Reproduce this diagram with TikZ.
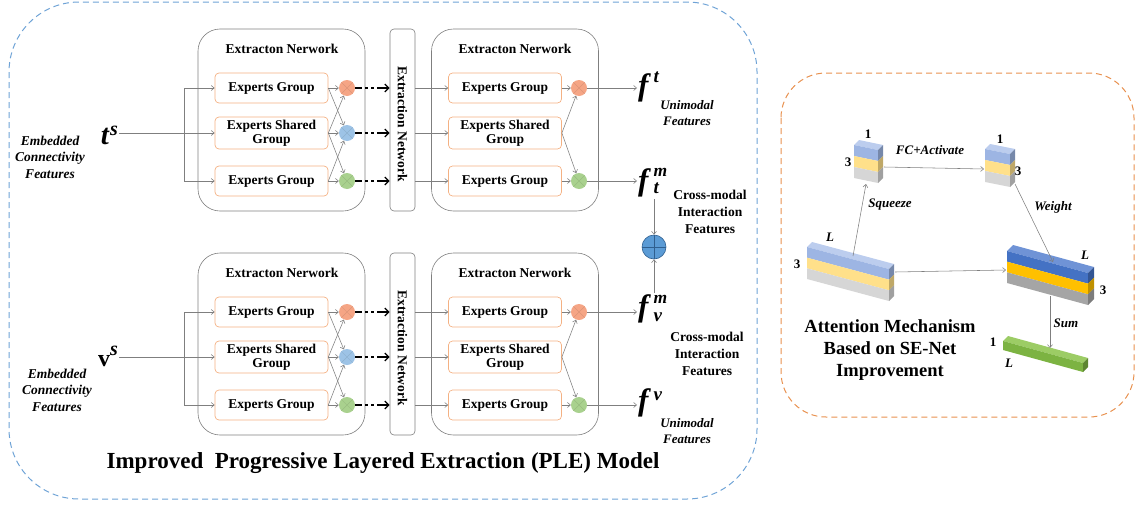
\documentclass[tikz,border=0pt]{standalone}
\usepackage{fontspec}
\setmainfont{Liberation Serif}
\usetikzlibrary{arrows.meta,calc}
\definecolor{lineg}{HTML}{7F7F7F}
\definecolor{boxo}{HTML}{F4B183}
\definecolor{gorange}{HTML}{F5A585}
\definecolor{gblue}{HTML}{9DC3E6}
\definecolor{ggreen}{HTML}{A9D18E}
\definecolor{plusblue}{HTML}{5B9BD5}
\definecolor{plusdark}{HTML}{2F5F8F}
\definecolor{outblue}{HTML}{6FA3D6}
\definecolor{outorange}{HTML}{E8914F}
% light slab colours
\definecolor{lba}{HTML}{9DB5E3}
\definecolor{lbb}{HTML}{FFE08A}
\definecolor{lbc}{HTML}{D6D6D6}
\definecolor{lbtop}{HTML}{BCCDEE}
% dark slab colours
\definecolor{dba}{HTML}{4472C4}
\definecolor{dbb}{HTML}{FFC000}
\definecolor{dbc}{HTML}{A5A5A5}
\definecolor{dbtop}{HTML}{6F93D6}
\definecolor{gra}{HTML}{7CB342}
\definecolor{grtop}{HTML}{9CCC65}
\newcommand\slab[7]{% x y w s h d prefix
  \pgfmathsetmacro\hh{#5/3}
  \fill[#7top] (#1,#2) -- ++(#6,-#6) -- ++(#3,#4) -- ++(-#6,#6) -- cycle;
  \foreach \ii/\cc in {0/a,1/b,2/c}{
    \fill[#7\cc] (#1,#2+\ii*\hh) -- ++(#3,#4) -- ++(0,\hh) -- ++(-#3,-#4) -- cycle;
    \fill[#7\cc!75!black] (#1+#3,#2+#4+\ii*\hh) -- ++(#6,-#6) -- ++(0,\hh) -- ++(-#6,#6) -- cycle;
  }
}
\newcommand\scr[3]{\raisebox{#1}[0pt][0pt]{\fontsize{#2}{#2}\selectfont #3}}
\begin{document}
\begin{tikzpicture}[x=1pt,y=-1pt,
  every node/.style={font=\bfseries\fontsize{13.5}{14.5}\selectfont, inner sep=1pt},
  net/.style={draw=lineg, line width=0.6pt, rounded corners=22pt, minimum width=167pt, minimum height=182pt},
  expbox/.style={draw=boxo, line width=0.7pt, rounded corners=4pt, minimum width=113pt, minimum height=30pt, align=center},
  vnet/.style={draw=lineg, line width=0.6pt, rounded corners=4pt, minimum width=25pt, minimum height=182pt},
  gate/.style={circle, minimum size=16pt, inner sep=0pt, fill=#1,
    path picture={\draw[#1!88!black, line width=0.35pt]
      ([shift={(-5.7,-5.7)}]path picture bounding box.center) -- ([shift={(5.7,5.7)}]path picture bounding box.center)
      ([shift={(-5.7,5.7)}]path picture bounding box.center) -- ([shift={(5.7,-5.7)}]path picture bounding box.center);}},
  conn/.style={draw=lineg, line width=0.55pt, -{Straight Barb[length=3pt,width=5pt]}},
  plain/.style={draw=lineg, line width=0.55pt},
  dotarrow/.style={draw=black, line width=2pt, dash pattern=on 7pt off 3pt on 3pt off 3pt on 3pt off 3pt on 20pt,
    -{Straight Barb[length=4pt,width=8pt,line width=1.3pt]}},
  emb/.style={font=\bfseries\itshape\fontsize{13.5}{16.5}\selectfont, align=center},
  cross/.style={font=\bfseries\fontsize{13.5}{17}\selectfont, align=center},
  uni/.style={font=\bfseries\itshape\fontsize{13}{15.5}\selectfont, align=center},
  lbl/.style={font=\bfseries\fontsize{13}{14}\selectfont},
  lbli/.style={font=\bfseries\itshape\fontsize{13}{14}\selectfont},
  sym/.style={font=\bfseries\itshape\fontsize{31}{31}\selectfont, inner sep=1pt, anchor=base west}
]
\useasboundingbox (0,0) rectangle (1139,506);

% outer frames
\draw[outblue, line width=1pt, dash pattern=on 6pt off 4pt, rounded corners=70pt] (9,2) rectangle (757,499);
\draw[outorange, line width=1pt, dash pattern=on 6pt off 4pt, rounded corners=45pt] (781,73) rectangle (1134,417);

% two branches
\foreach \b/\o in {t/0,v/224}{
\begin{scope}[shift={(0,\o)}]
  \node[net] (neta\b) at (281.5,120) {};
  \node (ttla\b) at (282,49) {Extracton Nerwork};
  \node[expbox] (ea1\b) at (271.5,88) {Experts Group};
  \node[expbox, minimum height=32pt, font=\bfseries\fontsize{13.5}{14}\selectfont] (ea2\b) at (271.5,133) {Experts Shared\\Group};
  \node[expbox] (ea3\b) at (271.5,181) {Experts Group};
  \node[gate=gorange] (ga1\b) at (347,88) {};
  \node[gate=gblue] (ga2\b) at (347,133) {};
  \node[gate=ggreen] (ga3\b) at (347,181) {};
  \node[vnet] (vb\b) at (402.5,120) {};
  \node[rotate=-90] (vbl\b) at (402.5,124) {Extraction Network};
  \node[net] (netb\b) at (515,120) {};
  \node (ttlb\b) at (515,49) {Extracton Nerwork};
  \node[expbox] (eb1\b) at (505,88) {Experts Group};
  \node[expbox, minimum height=32pt, font=\bfseries\fontsize{13.5}{14}\selectfont] (eb2\b) at (505,133) {Experts Shared\\Group};
  \node[expbox] (eb3\b) at (505,181) {Experts Group};
  \node[gate=gorange] (gb1\b) at (579,88) {};
  \node[gate=ggreen] (gb3\b) at (579,181) {};
  \coordinate (sp1\b) at (184,88);
  \coordinate (sp3\b) at (184,181);
  % input splitting
  \draw[plain] (sp1\b) -- (sp3\b);
  \draw[conn] (sp1\b) -- (ea1\b.west);
  \draw[conn] (sp3\b) -- (ea3\b.west);
  % first network gates
  \draw[conn] (ea1\b.east) -- (ga1\b.west);
  \draw[conn] (ea1\b.east) -- (ga2\b);
  \draw[conn] (ea2\b.east) -- (ga1\b);
  \draw[conn] (ea2\b.east) -- (ga2\b.west);
  \draw[conn] (ea2\b.east) -- (ga3\b);
  \draw[conn] (ea3\b.east) -- (ga3\b.west);
  \draw[conn] (ea3\b.east) -- (ga2\b);
  % dotted to extraction network
  \draw[dotarrow] (ga1\b.east) -- (ga1\b -| vb\b.west);
  \draw[dotarrow] (ga2\b.east) -- (ga2\b -| vb\b.west);
  \draw[dotarrow] (ga3\b.east) -- (ga3\b -| vb\b.west);
  % to second network
  \draw[conn] (eb1\b -| vb\b.east) -- (eb1\b.west);
  \draw[conn] (eb2\b -| vb\b.east) -- (eb2\b.west);
  \draw[conn] (eb3\b -| vb\b.east) -- (eb3\b.west);
  \draw[conn] (eb1\b.east) -- (gb1\b.west);
  \draw[conn] (eb3\b.east) -- (gb3\b.west);
  \draw[conn] (eb2\b.east) -- (gb1\b);
  \draw[conn] (eb2\b.east) -- (gb3\b);
\end{scope}
}

% inputs
\node[sym, anchor=base east, font=\bfseries\itshape\fontsize{29}{29}\selectfont] (ts) at (119,144) {t\kern1pt\raisebox{9pt}{\fontsize{20}{20}\selectfont s}};
\node[sym, anchor=base east, font=\bfseries\fontsize{24}{24}\selectfont] (vs) at (119,366) {v\raisebox{11pt}{\fontsize{20}{20}\selectfont\itshape s}};
\draw[conn] (ts.east |- ea2t.west) -- (ea2t.west);
\draw[conn] (vs.east |- ea2v.west) -- (ea2v.west);
\node[emb] (emb1) at (50,157) {Embedded\\Connectivity\\Features};
\node[emb] (emb2) at (57,390) {Embedded\\Connectivity\\Features};

% outputs
\node[sym] (ft) at (637,95) {f\kern5pt\scr{13pt}{19}{t}\kern4pt};
\node[sym] (fmt) at (637,190) {f\kern5pt\rlap{\scr{14pt}{17.5}{m}}\scr{-3pt}{19}{t}\kern4pt};
\node[sym] (fmv) at (637,316) {f\kern5pt\rlap{\scr{13pt}{17.5}{m}}\scr{-5pt}{19}{v}\kern4pt};
\node[sym] (fv) at (637,410) {f\kern5pt\scr{10pt}{19}{v}\kern4pt};
\draw[conn] (gb1t.east) -- (gb1t -| ft.west);
\draw[conn] (gb3t.east) -- (gb3t -| fmt.west);
\draw[conn] (gb1v.east) -- (gb1v -| fmv.west);
\draw[conn] (gb3v.east) -- (gb3v -| fv.west);

\node[circle, fill=plusblue, draw=plusdark, line width=0.6pt, minimum size=24pt, inner sep=0pt,
  path picture={\draw[plusdark, line width=0.6pt] (path picture bounding box.north) -- (path picture bounding box.south)
    (path picture bounding box.west) -- (path picture bounding box.east);}] (plus) at (654,247) {};
\coordinate (pt0) at (654,199);
\coordinate (pv0) at (654,293);
\draw[conn] (pt0) -- (plus);
\draw[conn] (pv0) -- (plus);

\node[uni] (uni1) at (687,113) {Unimodal\\Features};
\node[uni] (uni2) at (687,431) {Unimodal\\Features};
\node[cross] (cm1) at (710,212) {Cross-modal\\Interaction\\Features};
\node[cross] (cm2) at (707,354) {Cross-modal\\Interaction\\Features};

\node[font=\bfseries\fontsize{23}{26}\selectfont] (title) at (383,463) {Improved\ \ Progressive Layered Extraction (PLE) Model};

% SE-Net part
\slab{854}{145}{24}{5}{33}{5}{lb}
\slab{985}{149}{25}{5}{33}{5}{lb}
\slab{807}{247}{82}{22}{32}{5}{lb}
\slab{1007}{251}{81}{22}{32}{6}{db}
\fill[grtop] (1003,341) -- ++(5,-5) -- ++(80,22) -- ++(-5,5) -- cycle;
\fill[gra] (1003,341) -- ++(80,22) -- ++(0,9) -- ++(-80,-22) -- cycle;
\fill[gra!75!black] (1083,363) -- ++(5,-5) -- ++(0,9) -- ++(-5,5) -- cycle;

\coordinate (sq0) at (853,256);
\coordinate (sq1) at (866,184);
\coordinate (fc0) at (884,167);
\coordinate (fc1) at (984,169);
\coordinate (wt0) at (1015,184);
\coordinate (wt1) at (1053,262);
\coordinate (rr0) at (895,272);
\coordinate (rr1) at (1006,270);
\coordinate (sm0) at (1050,296);
\coordinate (sm1) at (1050,348);
\draw[conn] (sq0) -- (sq1);
\draw[conn] (fc0) -- (fc1);
\draw[conn] (wt0) -- (wt1);
\draw[conn] (rr0) -- (rr1);
\draw[conn] (sm0) -- (sm1);

\node[lbli] (lfc) at (930,150) {FC+Activate};
\node[lbli] (lsq) at (890,205) {Squeeze};
\node[lbli] (lwt) at (1053,207) {Weight};
\node[lbli] (lsm) at (1066,323) {Sum};
\node[lbl] (n1a) at (868,134) {1};
\node[lbl] (n3a) at (848,162) {3};
\node[lbl] (n1b) at (1000,139) {1};
\node[lbl] (n3b) at (1018,171) {3};
\node[lbli] (nLa) at (830,237) {L};
\node[lbl] (n3c) at (797,264) {3};
\node[lbli] (nLb) at (1085,255) {L};
\node[lbl] (n3d) at (1103,290) {3};
\node[lbl] (n1c) at (993,342) {1};
\node[lbli] (nLc) at (1009,363) {L};
\node[font=\bfseries\fontsize{18.5}{22}\selectfont, align=center] (att) at (890,350) {Attention Mechanism\\Based on SE-Net\\Improvement};
\end{tikzpicture}
\end{document}
